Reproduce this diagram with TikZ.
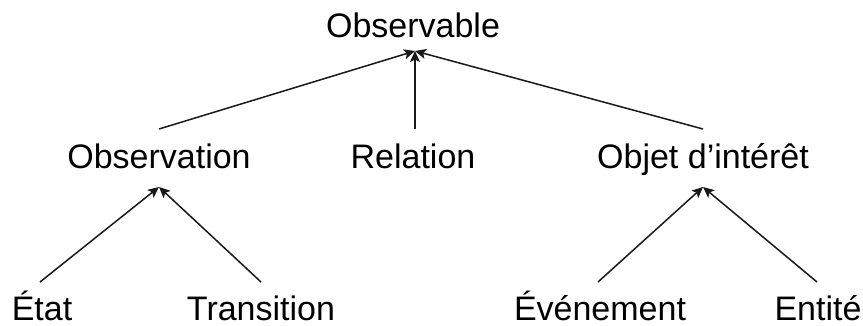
\documentclass[tikz,border=0pt]{standalone}
\usepackage{fontspec}
\setmainfont{Liberation Sans}
\usetikzlibrary{arrows.meta}
\begin{document}
\begin{tikzpicture}[x=1pt,y=1pt,
  lbl/.style={anchor=base,inner sep=0pt,font=\fontsize{34}{40}\selectfont},
  link/.style={line width=1.5pt,draw=black!90,-{Stealth[length=11pt,width=10pt,inset=2.5pt]}}]
\useasboundingbox (0,0) rectangle (863,325);
\node[lbl] (observable) at (413,288) {Observable};
\node[lbl] (observation) at (159,157) {Observation};
\node[lbl] (relation) at (413,157) {Relation};
\node[lbl] (objet) at (703,157) {Objet d’intérêt};
\node[lbl] (etat) at (42,5) {État};
\node[lbl] (transition) at (261,5) {Transition};
\node[lbl] (evenement) at (600,5) {Événement};
\node[lbl] (entite) at (818,5) {Entité};
\coordinate (obsin) at (415,274);
\coordinate (observin) at (159,138);
\coordinate (objin) at (703,138);
\draw[link] ([yshift=39pt]observation.base) -- (obsin);
\draw[link] ([xshift=2pt,yshift=39pt]relation.base) -- (obsin);
\draw[link] ([yshift=39pt]objet.base) -- (obsin);
\draw[link] ([xshift=-2pt,yshift=38pt]etat.base) -- (observin);
\draw[link] ([yshift=38pt]transition.base) -- (observin);
\draw[link] ([xshift=-2pt,yshift=38pt]evenement.base) -- (objin);
\draw[link] ([xshift=-1pt,yshift=38pt]entite.base) -- (objin);
\end{tikzpicture}
\end{document}
